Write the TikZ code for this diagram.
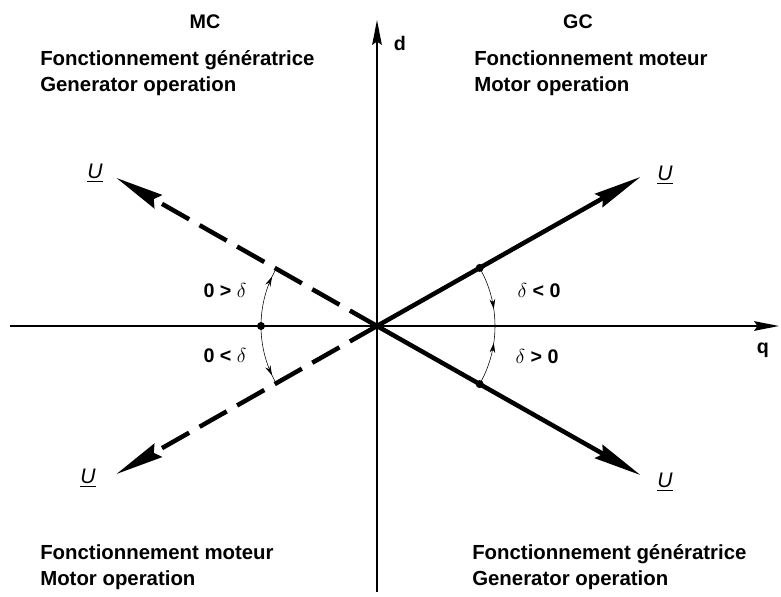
\documentclass[tikz,border=0pt]{standalone}
\usepackage{fontspec}
\setmainfont{Liberation Sans}
\usetikzlibrary{arrows.meta,decorations.markings}

\begin{document}
\begin{tikzpicture}[x=0.025cm, y=0.025cm,
  axisline/.style={line width=1.1pt, -{Stealth[length=0.62cm,width=0.24cm,inset=0.08cm]}},
  vec/.style={line width=3.2pt, -{Stealth[length=1.2cm,width=0.38cm,inset=0.12cm]}},
  dvec/.style={vec, dash pattern=on 0.78cm off 0.3cm},
  arcarrow/.style={thin, postaction={decorate}, decoration={markings,
      mark=at position #1 with {\arrow{Stealth[length=7pt,width=4pt]}}}},
  dot/.style={circle, fill, inner sep=0pt, minimum size=0.2cm},
  lbl/.style={font=\fontsize{14.5}{18.4}\selectfont\bfseries, align=left, inner sep=0pt},
  ulbl/.style={font=\fontsize{15}{16}\selectfont\itshape, inner sep=1pt},
  dlbl/.style={font=\fontsize{14}{16}\selectfont\bfseries, inner sep=0pt},
]
\useasboundingbox (-377,-271) rectangle (404,326);

% axes
\coordinate (O) at (0,0);
\coordinate (qstart) at (-367,0);
\coordinate (qend) at (402,0);
\coordinate (dstart) at (0,-266);
\coordinate (dend) at (0,306);
\draw[axisline] (qstart) -- (qend);
\draw[axisline] (dstart) -- (dend);
\node[dlbl] (d) at (23,283) {d};
\node[dlbl] (q) at (386,-24) {q};

% vectors U
\coordinate (ur) at (29.5:303);
\coordinate (lr) at (-29.5:303);
\coordinate (ul) at (150.4:300);
\coordinate (ll) at (209.6:300);
\draw[vec] (O) -- (ur);
\draw[vec] (O) -- (lr);
\draw[dvec] (O) -- (ul);
\draw[dvec] (O) -- (ll);
\node[ulbl] (Uur) at (288,151) {\underline{U}};
\node[ulbl] (Ulr) at (288,-156) {\underline{U}};
\node[ulbl] (Uul) at (-282,153) {\underline{U}};
\node[ulbl] (Ull) at (-289,-152) {\underline{U}};

% angles delta
\node[dot] (pur) at (29.5:118) {};
\node[dot] (plr) at (-29.5:118) {};
\node[dot] (pl) at (180:116) {};
\draw[arcarrow=0.72] (pur.center) arc[start angle=29.5, end angle=0, radius=118];
\draw[arcarrow=0.72] (plr.center) arc[start angle=-29.5, end angle=0, radius=118];
\draw[arcarrow=0.85] (pl.center) arc[start angle=180, end angle=150.4, radius=116];
\draw[arcarrow=0.85] (pl.center) arc[start angle=180, end angle=209.6, radius=116];
\node[dlbl] (dul) at (-152,35) {0 > $\delta$};
\node[dlbl] (dll) at (-152,-30) {0 < $\delta$};
\node[dlbl] (dur) at (162,35) {$\delta$ < 0};
\node[dlbl] (dlr) at (160,-31) {$\delta$ > 0};

% quadrants
\node[dlbl] (mc) at (-172,304) {MC};
\node[dlbl] (gc) at (201,304) {GC};
\node[lbl, anchor=west] (tl) at (-337,253) {Fonctionnement génératrice\\Generator operation};
\node[lbl, anchor=west] (tr) at (97,253) {Fonctionnement moteur\\Motor operation};
\node[lbl, anchor=west] (bl) at (-337,-241) {Fonctionnement moteur\\Motor operation};
\node[lbl, anchor=west] (br) at (95,-241) {Fonctionnement génératrice\\Generator operation};
\end{tikzpicture}
\end{document}
